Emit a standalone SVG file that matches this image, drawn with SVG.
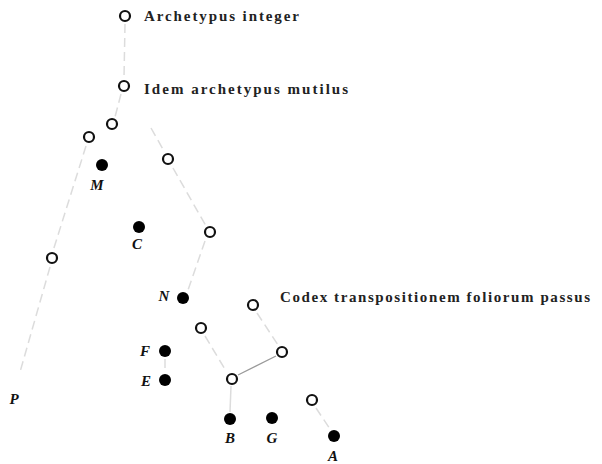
<svg xmlns="http://www.w3.org/2000/svg" width="602" height="464" viewBox="0 0 602 464">
<style>
.o{fill:#fff;stroke:#111;stroke-width:2.2}
.f{fill:#000}
.t{font-family:"Liberation Serif",serif;font-size:15px;font-weight:bold;fill:#222}
.l{font-family:"Liberation Serif",serif;font-size:15px;font-weight:bold;font-style:italic;fill:#111;text-anchor:middle}
.c{stroke:#dcdcdc;stroke-width:1.5;fill:none;stroke-dasharray:9 5}
.s{stroke:#9a9a9a;stroke-width:1.2;fill:none}
</style>
<rect width="602" height="464" fill="#fff"/>
<g id="connectors">
<path class="c" d="M125,24 L124,78"/>
<path class="c" d="M121,94 L115,117"/>
<path class="c" d="M86,146 L53,251"/>
<path class="c" d="M50,267 L20,372"/>
<path class="c" d="M151,128 L164,151"/>
<path class="c" d="M173,168 L206,226"/>
<path class="c" d="M205,241 L188,290"/>
<path class="c" d="M257,313 L278,345"/>
<path class="c" d="M205,336 L226,371"/>
<path class="s" d="M238,375 L276,356"/>
<path class="c" d="M231,386 L230,412" style="stroke-dasharray:none"/>
<path class="c" d="M165,359 L165,372"/>
<path class="c" d="M316,408 L330,429"/>
</g>
<g id="n1"><circle class="o" cx="125" cy="16" r="5"/><text class="t" x="144" y="21" textLength="155" lengthAdjust="spacing">Archetypus integer</text></g>
<g id="n2"><circle class="o" cx="124" cy="86" r="5"/><text class="t" x="144" y="94" textLength="204" lengthAdjust="spacing">Idem archetypus mutilus</text></g>
<g id="n3"><circle class="o" cx="112" cy="124" r="5"/></g>
<g id="n4"><circle class="o" cx="89" cy="137" r="5"/></g>
<g id="M"><circle class="f" cx="102" cy="165" r="6"/><text class="l" x="97" y="190">M</text></g>
<g id="n5"><circle class="o" cx="168" cy="159" r="5"/></g>
<g id="C"><circle class="f" cx="139" cy="227" r="6"/><text class="l" x="137" y="249">C</text></g>
<g id="n6"><circle class="o" cx="210" cy="232" r="5"/></g>
<g id="n7"><circle class="o" cx="52" cy="258" r="5"/></g>
<g id="N"><circle class="f" cx="183" cy="298" r="6"/><text class="l" x="164" y="301">N</text></g>
<g id="n8"><circle class="o" cx="253" cy="305" r="5"/><text class="t" x="280" y="302" textLength="310" lengthAdjust="spacing">Codex transpositionem foliorum passus</text></g>
<g id="n9"><circle class="o" cx="201" cy="328" r="5"/></g>
<g id="F"><circle class="f" cx="165" cy="351" r="6"/><text class="l" x="145" y="356">F</text></g>
<g id="n10"><circle class="o" cx="282" cy="352" r="5"/></g>
<g id="E"><circle class="f" cx="165" cy="380" r="6"/><text class="l" x="146" y="386">E</text></g>
<g id="n11"><circle class="o" cx="232" cy="379" r="5"/></g>
<g id="P"><text class="l" x="14" y="404">P</text></g>
<g id="n12"><circle class="o" cx="312" cy="400" r="5"/></g>
<g id="B"><circle class="f" cx="230" cy="419" r="6"/><text class="l" x="230" y="443">B</text></g>
<g id="G"><circle class="f" cx="272" cy="418" r="6"/><text class="l" x="272" y="443">G</text></g>
<g id="A"><circle class="f" cx="334" cy="436" r="6"/><text class="l" x="333" y="461">A</text></g>
</svg>
